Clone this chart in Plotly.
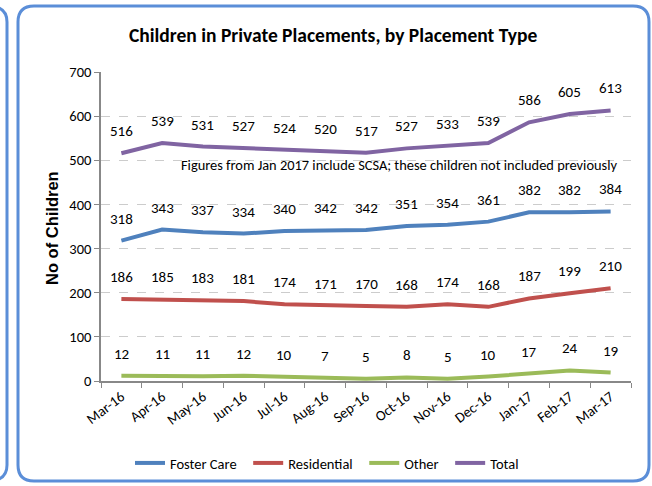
import plotly.graph_objects as go

months = ["Mar-16", "Apr-16", "May-16", "Jun-16", "Jul-16", "Aug-16", "Sep-16",
          "Oct-16", "Nov-16", "Dec-16", "Jan-17", "Feb-17", "Mar-17"]
foster = [318, 343, 337, 334, 340, 342, 342, 351, 354, 361, 382, 382, 384]
residential = [186, 185, 183, 181, 174, 171, 170, 168, 174, 168, 187, 199, 210]
other = [12, 11, 11, 12, 10, 7, 5, 8, 5, 10, 17, 24, 19]
total = [516, 539, 531, 527, 524, 520, 517, 527, 533, 539, 586, 605, 613]

series = [("Foster Care", foster, "#4F81BD"),
          ("Residential", residential, "#C0504D"),
          ("Other", other, "#9BBB59"),
          ("Total", total, "#8064A2")]

W, H = 652, 486
L, R, T, B = 101, 21, 72, 105
PW, PH = W - L - R, H - T - B

def px(x):
    return (x - L) / PW

def py(y):
    return (H - B - y) / PH

FONT = "Carlito, Calibri, Liberation Sans Narrow, Arial Narrow, sans-serif"

fig = go.Figure()
annotations = []
for name, vals, col in series:
    fig.add_trace(go.Scatter(x=months, y=vals, mode="lines", name=name + "\u00a0\u00a0",
                             line=dict(color=col, width=4)))
    for m, v in zip(months, vals):
        annotations.append(dict(x=m, y=v, xref="x", yref="y", text=str(v),
                                showarrow=False, yshift=22,
                                font=dict(family=FONT, size=15, color="#000000")))

annotations.append(dict(x=px(619), y=py(165), xref="paper", yref="paper",
                        xanchor="right", yanchor="middle", showarrow=False,
                        text="Figures from Jan 2017 include SCSA; these children not included previously",
                        font=dict(family=FONT, size=14.4, color="#000000")))
annotations.append(dict(x=px(333), y=py(35), xref="paper", yref="paper",
                        xanchor="center", yanchor="middle", showarrow=False,
                        text="<b>Children in Private Placements, by Placement Type</b>",
                        font=dict(family=FONT, size=19.5, color="#000000")))
annotations.append(dict(x=px(52), y=py(228), xref="paper", yref="paper",
                        xanchor="center", yanchor="middle", showarrow=False,
                        textangle=-90,
                        text="<b>No of Children</b>",
                        font=dict(family="Liberation Sans, Arial, sans-serif", size=16.5, color="#000000")))

BC = "#5B8ED8"
def rrect(x0, y0, x1, y1, r):
    p = [
        f"M {px(x0 + r)} {py(y0)}",
        f"L {px(x1 - r)} {py(y0)}",
        f"Q {px(x1)} {py(y0)} {px(x1)} {py(y0 + r)}",
        f"L {px(x1)} {py(y1 - r)}",
        f"Q {px(x1)} {py(y1)} {px(x1 - r)} {py(y1)}",
        f"L {px(x0 + r)} {py(y1)}",
        f"Q {px(x0)} {py(y1)} {px(x0)} {py(y1 - r)}",
        f"L {px(x0)} {py(y0 + r)}",
        f"Q {px(x0)} {py(y0)} {px(x0 + r)} {py(y0)}",
        "Z",
    ]
    return " ".join(p)

shapes = [
    dict(type="path", xref="paper", yref="paper", path=rrect(18, 6, 649, 481, 16),
         line=dict(color=BC, width=3), layer="below"),
    dict(type="path", xref="paper", yref="paper",
         path=(f"M {px(-12)} {py(6)} Q {px(7)} {py(6)} {px(7)} {py(22)} "
               f"L {px(7)} {py(465)} Q {px(7)} {py(481)} {px(-12)} {py(481)}"),
         line=dict(color=BC, width=3), layer="below"),
]

fig.update_layout(
    width=W, height=H,
    margin=dict(l=L, r=R, t=T, b=B, pad=0, autoexpand=False),
    paper_bgcolor="#FFFFFF", plot_bgcolor="#FFFFFF",
    font=dict(family=FONT, size=12, color="#000000"),
    showlegend=True,
    legend=dict(orientation="h", x=px(130), y=py(463), xanchor="left", yanchor="middle",
                font=dict(family=FONT, size=14.5, color="#000000"),
                itemwidth=30, tracegroupgap=0, bgcolor="rgba(0,0,0,0)"),
    annotations=annotations,
    shapes=shapes,
)
fig.update_xaxes(type="category", range=[-0.5, 12.5], tickson="boundaries",
                 showline=True, linecolor="#888888", linewidth=1.5,
                 ticks="outside", ticklen=5, tickcolor="#888888",
                 showgrid=False, tickangle=-37, automargin=False,
                 tickfont=dict(family=FONT, size=14.5, color="#000000"))
fig.update_yaxes(range=[0, 700], dtick=100, showline=True, linecolor="#888888", linewidth=1.5,
                 ticks="outside", ticklen=5, tickcolor="#888888",
                 showgrid=True, gridcolor="#CCCCCC", griddash="dash", gridwidth=1,
                 zeroline=False, automargin=False,
                 tickfont=dict(family=FONT, size=14.5, color="#000000"))

fig.write_html("out.html", config={"displayModeBar": False},
               post_script="document.body.style.margin='0';document.body.style.padding='0';")
